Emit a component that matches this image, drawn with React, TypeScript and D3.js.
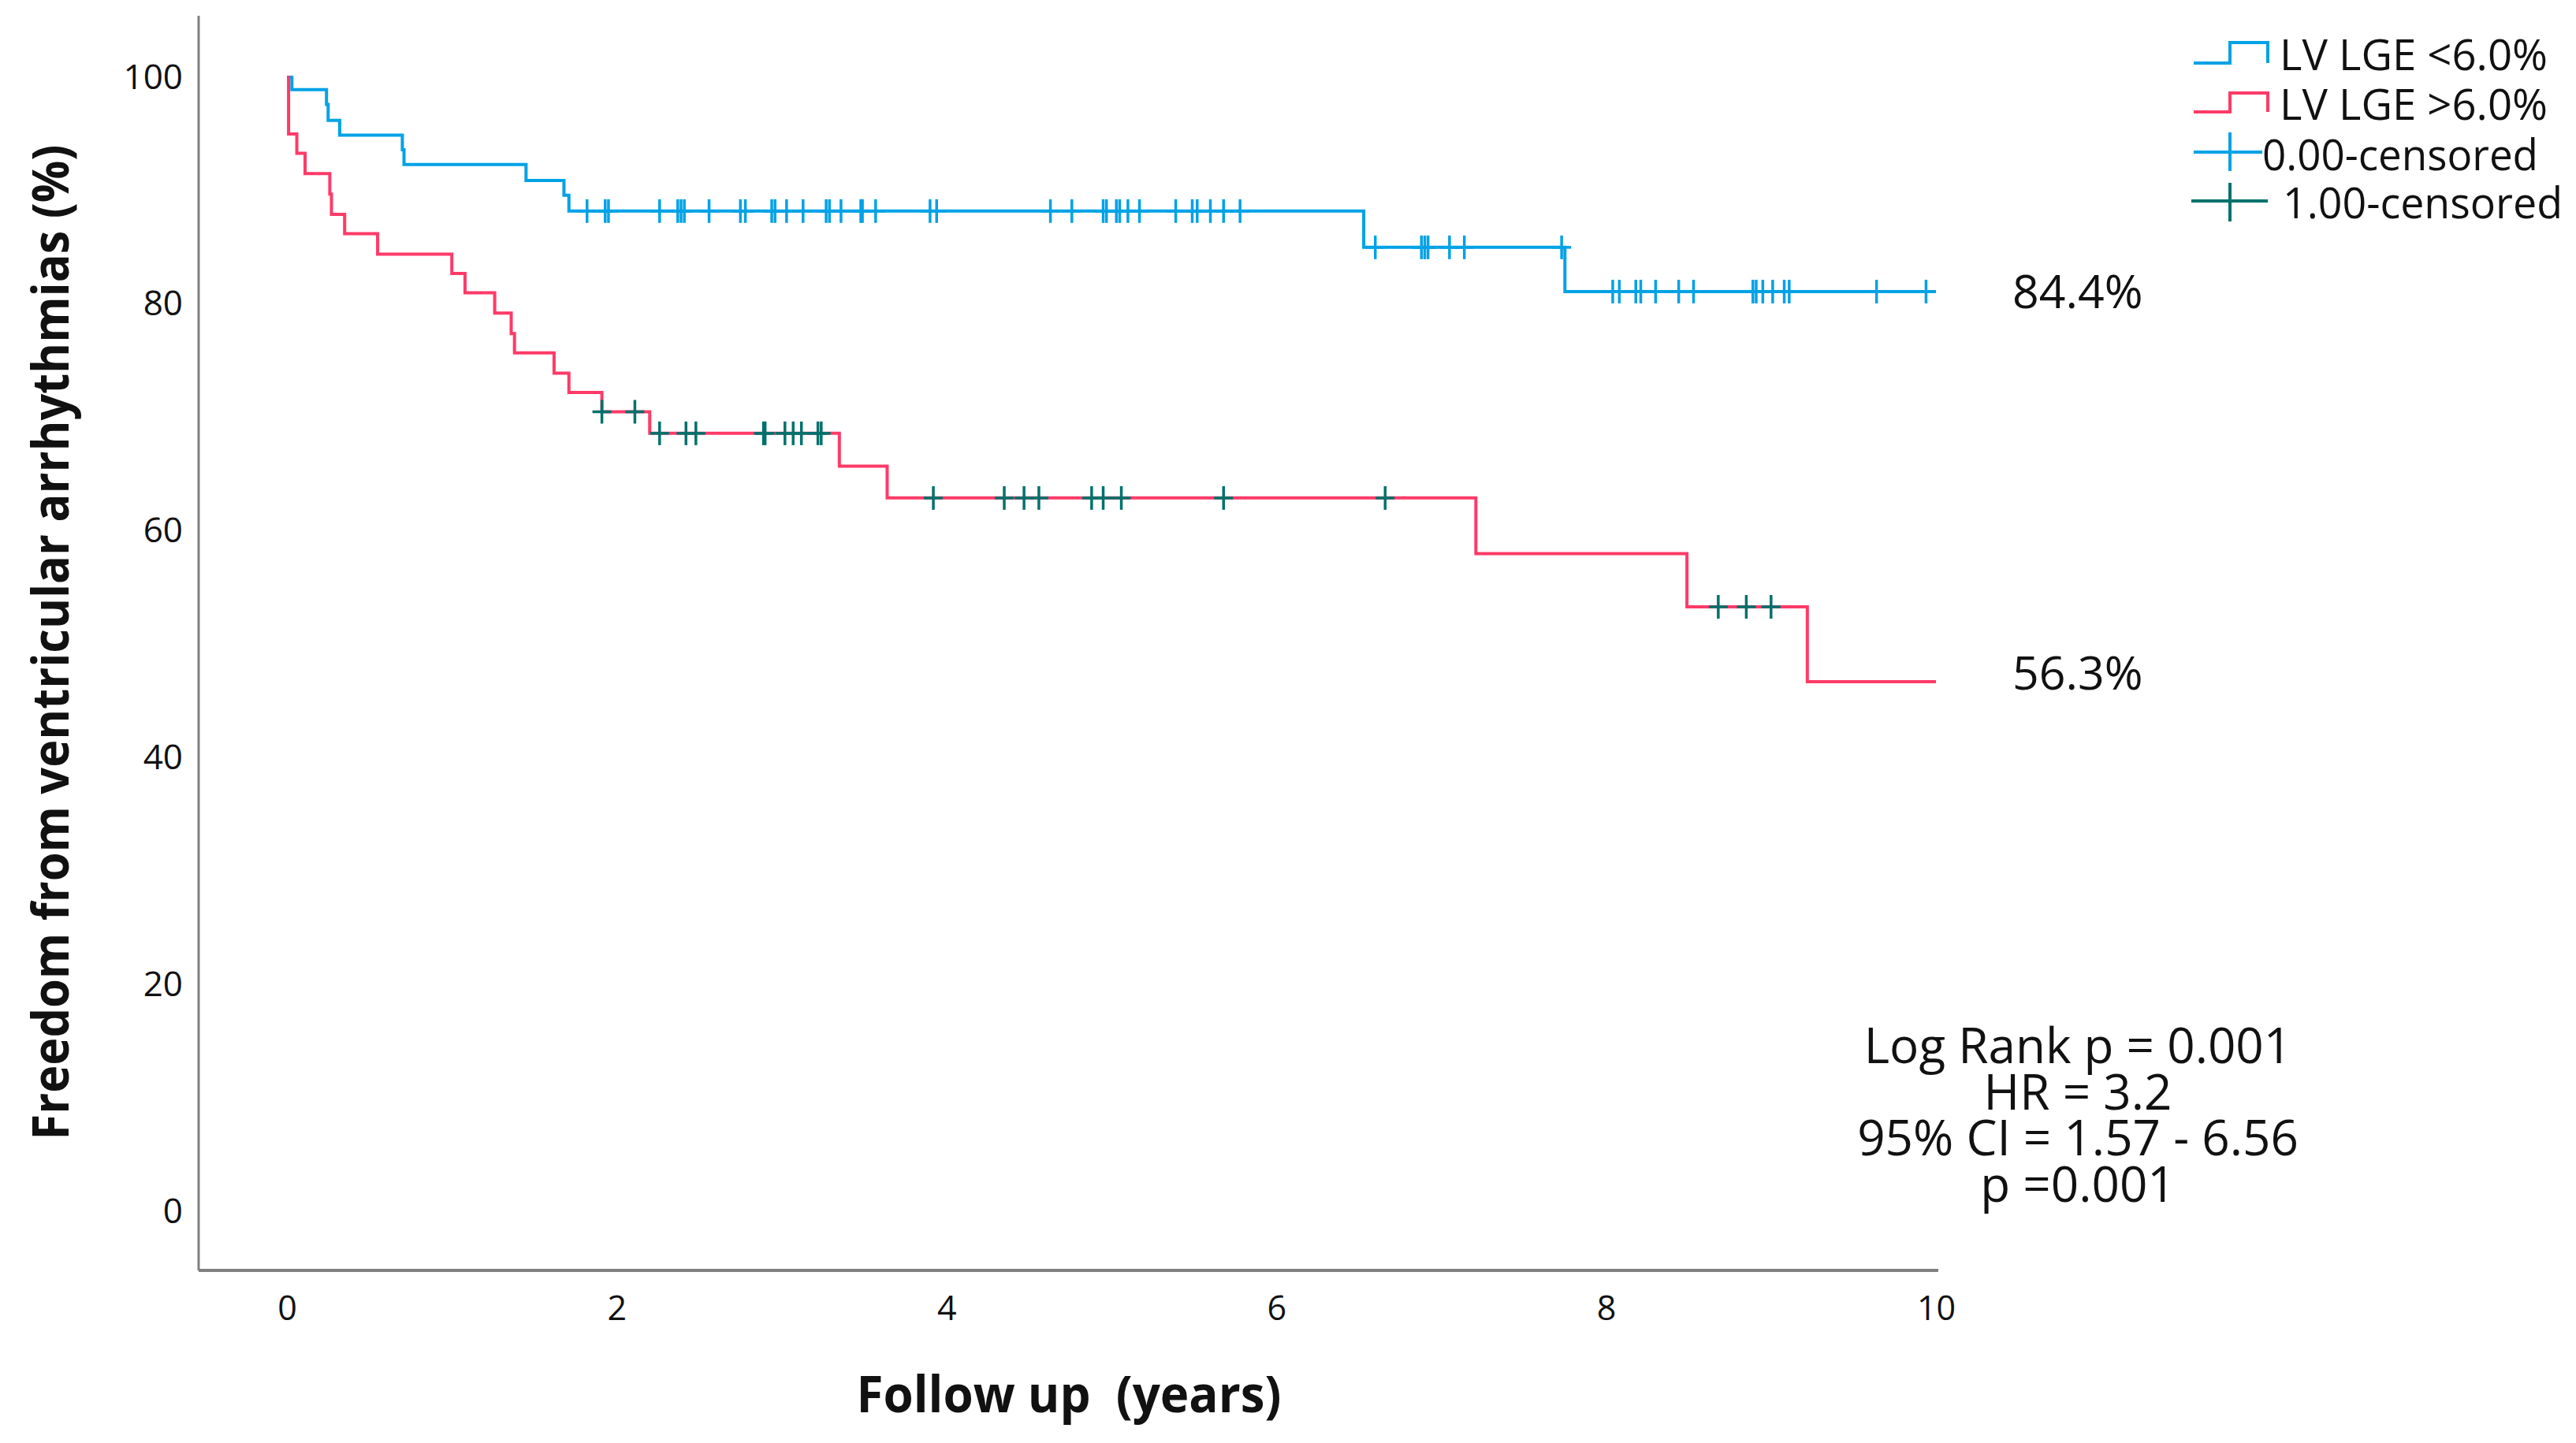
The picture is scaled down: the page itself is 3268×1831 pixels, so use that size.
import React, { useEffect, useRef } from "react";
import * as d3 from "d3";

// Kaplan-Meier steps (years, % event free)
const lowTimes = [0, 0.03, 0.24, 0.25, 0.32, 0.7, 0.71, 1.45, 1.68, 1.71, 6.53, 7.75, 10.0];
const lowSurv = [100, 98.9, 97.6, 96.2, 94.9, 93.6, 92.3, 90.9, 89.6, 88.2, 85.0, 81.1, 81.1];
const lowCensored = [
  1.82, 1.93, 1.95, 2.26, 2.37, 2.39, 2.41, 2.56, 2.75, 2.78, 2.94, 2.96, 3.03, 3.13, 3.27, 3.29,
  3.36, 3.48, 3.49, 3.57, 3.9, 3.94, 4.63, 4.76, 4.95, 4.97, 5.03, 5.05, 5.1, 5.17, 5.39, 5.49,
  5.52, 5.6, 5.68, 5.78, 6.6, 6.88, 6.9, 6.92, 7.05, 7.14, 7.73, 8.04, 8.08, 8.18, 8.21, 8.3,
  8.44, 8.53, 8.89, 8.91, 8.95, 9.01, 9.08, 9.11, 9.64, 9.94,
];

const highTimes = [
  0, 0.01, 0.06, 0.11, 0.26, 0.27, 0.35, 0.55, 1.0, 1.08, 1.26, 1.36, 1.38, 1.62, 1.71, 1.91, 2.2,
  3.35, 3.64, 7.21, 8.49, 9.22, 10.0,
];
const highSurv = [
  100, 95.0, 93.3, 91.5, 89.7, 87.9, 86.2, 84.4, 82.7, 81.0, 79.2, 77.4, 75.7, 73.9, 72.2, 70.5,
  68.6, 65.7, 62.9, 58.0, 53.3, 46.7, 46.7,
];
const highCensored = [
  1.91, 2.11, 2.26, 2.42, 2.48, 2.89, 2.9, 3.02, 3.07, 3.12, 3.22, 3.24, 3.92, 4.35, 4.47, 4.56,
  4.88, 4.95, 5.06, 5.68, 6.66, 8.68, 8.85, 9.0,
];

const xTicks = [0, 2, 4, 6, 8, 10];
const yTicks = [0, 20, 40, 60, 80, 100];
const legendLabels = ["LV LGE <6.0%", "LV LGE >6.0%", "0.00-censored", "1.00-censored"];
const endLabels = ["84.4%", "56.3%"];
const statsLines = ["Log Rank p = 0.001", "HR = 3.2", "95% CI = 1.57 - 6.56", "p =0.001"];

const BLUE = "#00a2e6";
const RED = "#ff3a68";
const TEAL = "#00716c";
const FONT = "'Open Sans', 'Noto Sans', sans-serif";

const W = 3268;
const H = 1831;

const App: React.FC = () => {
  const svgRef = useRef<SVGSVGElement>(null);

  useEffect(() => {
    if (!svgRef.current) return;
    const svg = d3.select(svgRef.current);
    svg.selectAll("*").remove();

    const x = d3.scaleLinear().domain([0, 10]).range([364, 2456]);
    const y = d3.scaleLinear().domain([0, 100]).range([1537, 98]);

    const axisLeftX = 252;
    const axisBottomY = 1612;

    // axes lines
    svg.append("line")
      .attr("x1", axisLeftX).attr("x2", axisLeftX)
      .attr("y1", 20).attr("y2", axisBottomY)
      .attr("stroke", "#808080").attr("stroke-width", 3);
    svg.append("line")
      .attr("x1", axisLeftX).attr("x2", 2459)
      .attr("y1", axisBottomY).attr("y2", axisBottomY)
      .attr("stroke", "#808080").attr("stroke-width", 4);

    const yAxis = svg.append("g")
      .attr("transform", `translate(${axisLeftX},0)`)
      .call(d3.axisLeft(y).tickValues(yTicks).tickSize(0).tickPadding(20));
    yAxis.select(".domain").remove();
    yAxis.selectAll("text")
      .style("font-family", FONT).style("font-size", "44px").style("fill", "#111");

    const xAxis = svg.append("g")
      .attr("transform", `translate(0,${axisBottomY})`)
      .call(d3.axisBottom(x).tickValues(xTicks).tickSize(0).tickPadding(32));
    xAxis.select(".domain").remove();
    xAxis.selectAll("text")
      .style("font-family", FONT).style("font-size", "43px").style("fill", "#111");

    // axis titles
    svg.append("text")
      .attr("transform", "translate(87,815) rotate(-90)")
      .attr("text-anchor", "middle")
      .attr("textLength", 1263)
      .attr("lengthAdjust", "spacingAndGlyphs")
      .style("font-family", FONT).style("font-size", "64px").style("font-weight", "700")
      .style("fill", "#111")
      .text("Freedom from ventricular arrhythmias (%)");

    svg.append("text")
      .attr("x", 1356).attr("y", 1792)
      .attr("text-anchor", "middle")
      .attr("textLength", 539)
      .attr("lengthAdjust", "spacingAndGlyphs")
      .style("white-space", "pre")
      .style("font-family", FONT).style("font-size", "64px").style("font-weight", "700")
      .style("fill", "#111")
      .text("Follow up  (years)");

    const line = d3.line<[number, number]>()
      .x((d) => x(d[0]))
      .y((d) => y(d[1]))
      .curve(d3.curveStepAfter);

    const groups = [
      { times: lowTimes, surv: lowSurv, cens: lowCensored, color: BLUE, censColor: BLUE },
      { times: highTimes, surv: highSurv, cens: highCensored, color: RED, censColor: TEAL },
    ];

    groups.forEach((g) => {
      const pts = g.times.map((t, i) => [t, g.surv[i]] as [number, number]);
      svg.append("path")
        .attr("d", line(pts) || "")
        .attr("fill", "none")
        .attr("stroke", g.color)
        .attr("stroke-width", 4)
        .attr("stroke-linejoin", "miter");
    });

    groups.forEach((g) => {
      const level = (t: number) => g.surv[Math.max(0, d3.bisectRight(g.times, t) - 1)];
      const marks = svg.append("g")
        .attr("stroke", g.censColor)
        .attr("stroke-width", 3.5);
      g.cens.forEach((t) => {
        const cx = x(t);
        const cy = y(level(t));
        marks.append("line")
          .attr("x1", cx).attr("x2", cx)
          .attr("y1", cy - 15).attr("y2", cy + 15);
        marks.append("line")
          .attr("x1", cx - 12).attr("x2", cx + 12)
          .attr("y1", cy).attr("y2", cy);
      });
    });

    // end-of-curve percentages
    const endLevels = [lowSurv[lowSurv.length - 1], highSurv[highSurv.length - 1]];
    const endOffsets = [21, 10];
    endLabels.forEach((lab, i) => {
      svg.append("text")
        .attr("x", 2553)
        .attr("y", y(endLevels[i]) + endOffsets[i])
        .style("font-family", FONT).style("font-size", "59px").style("fill", "#111")
        .text(lab);
    });

    // statistics block
    const stats = svg.append("g")
      .attr("text-anchor", "middle")
      .style("font-family", FONT).style("font-size", "62px").style("fill", "#111");
    statsLines.forEach((s, i) => {
      stats.append("text")
        .attr("x", 2636)
        .attr("y", 1349 + i * 58.5)
        .text(s);
    });

    // legend
    const lg = svg.append("g");
    lg.append("path")
      .attr("d", "M2783,80H2829V54H2877V80")
      .attr("fill", "none").attr("stroke", BLUE).attr("stroke-width", 4);
    lg.append("path")
      .attr("d", "M2783,142H2829V118H2877V142")
      .attr("fill", "none").attr("stroke", RED).attr("stroke-width", 4);
    lg.append("path")
      .attr("d", "M2783,193H2870M2829,168V217")
      .attr("fill", "none").attr("stroke", BLUE).attr("stroke-width", 4);
    lg.append("path")
      .attr("d", "M2780,255H2877M2829,232V281")
      .attr("fill", "none").attr("stroke", TEAL).attr("stroke-width", 4);

    const legendPos = [
      [2892, 89, 340],
      [2892, 152, 340],
      [2870, 216, 350],
      [2896, 277, 355],
    ];
    legendLabels.forEach((lab, i) => {
      lg.append("text")
        .attr("x", legendPos[i][0])
        .attr("y", legendPos[i][1])
        .attr("textLength", legendPos[i][2])
        .attr("lengthAdjust", "spacingAndGlyphs")
        .style("font-family", FONT).style("font-size", "55px").style("fill", "#111")
        .text(lab);
    });
  }, []);

  return (
    <svg
      ref={svgRef}
      width={W}
      height={H}
      viewBox={`0 0 ${W} ${H}`}
      style={{ position: "absolute", left: 0, top: 0, background: "#fff" }}
    />
  );
};

export default App;
